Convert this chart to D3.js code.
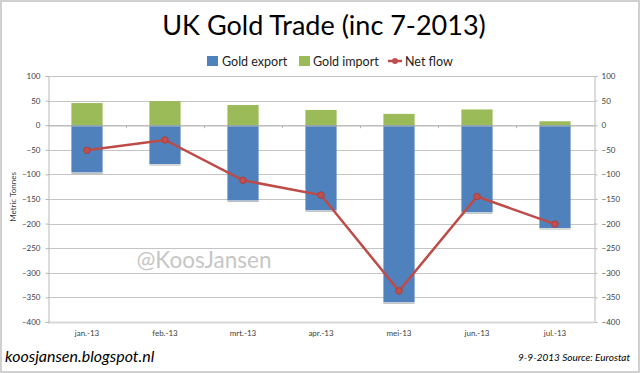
<!DOCTYPE html>
<html><head><meta charset="utf-8">
<script src="https://cdn.jsdelivr.net/npm/d3@7"></script>
<style>
html,body{margin:0;padding:0;background:#fff;}
svg{display:block;}
</style></head>
<body>
<svg id="chart" width="640" height="373"></svg>
<script>
const categories = ["jan.-13","feb.-13","mrt.-13","apr.-13","mei-13","jun.-13","jul.-13"];
const goldExport = [-96,-79,-153,-173,-360,-177,-209];
const goldImport = [45,49,41,31,23,32,8];
const netFlow = [-51,-30,-112,-142,-337,-145,-201];
const yTicks = [100,50,0,-50,-100,-150,-200,-250,-300,-350,-400];

const svg = d3.select("#chart");
const FONT = "Lato, 'Open Sans', sans-serif";
const plotL = 48, plotR = 594, plotT = 76, plotB = 322;

// frame
svg.append("rect").attr("x",1).attr("y",1).attr("width",638).attr("height",371)
  .attr("fill","#fff").attr("stroke","#d0d0d0").attr("stroke-width",2);

const x = d3.scaleBand().domain(categories).range([plotL,plotR]).padding(0);
const y = d3.scaleLinear().domain([-400,100]).range([plotB,plotT]);
const barW = x.bandwidth()*0.4;
const cx = c => x(c)+x.bandwidth()/2;

// gridlines
svg.append("g").selectAll("line").data(yTicks).join("line")
  .attr("x1",plotL).attr("x2",plotR)
  .attr("y1",d=>Math.round(y(d))+0.5).attr("y2",d=>Math.round(y(d))+0.5)
  .attr("stroke",d=> d===-400 ? "#d8d8d8" : "#c4c4c4")
  .attr("stroke-width",d=> d===-400 ? 2 : 1);

// left axis
const la = svg.append("g").attr("transform",`translate(${plotL+0.5},0)`)
  .call(d3.axisLeft(y).tickValues(yTicks).tickSize(3).tickPadding(5));
// right axis
const ra = svg.append("g").attr("transform",`translate(${plotR+0.5},0)`)
  .call(d3.axisRight(y).tickValues(yTicks).tickSize(3).tickPadding(4));
[la,ra].forEach(a=>{
  a.select(".domain").attr("stroke","#b8b8b8");
  a.selectAll(".tick line").attr("stroke","#b8b8b8");
  a.selectAll("text").attr("font-family",FONT).attr("font-size",8).attr("fill","#404040");
});

// bars
svg.append("g").selectAll("rect").data(categories).join("rect")
  .attr("x",c=>cx(c)-barW/2).attr("width",barW)
  .attr("y",(c,i)=>y(0)).attr("height",(c,i)=>y(goldExport[i])-y(0))
  .attr("fill","#4F81BD");
svg.append("g").selectAll("rect").data(categories).join("rect")
  .attr("x",c=>cx(c)-barW/2).attr("width",barW)
  .attr("y",(c,i)=>y(goldImport[i])).attr("height",(c,i)=>y(0)-y(goldImport[i]))
  .attr("fill","#9BBB59");
// subtle bar bottom shadow
svg.append("g").selectAll("line").data(categories).join("line")
  .attr("x1",c=>cx(c)-barW/2).attr("x2",c=>cx(c)+barW/2)
  .attr("y1",(c,i)=>y(goldExport[i])+1).attr("y2",(c,i)=>y(goldExport[i])+1)
  .attr("stroke","#a8a8a8").attr("stroke-width",1.2).attr("opacity",0.7);

// category axis at zero
const ca = svg.append("g").attr("transform",`translate(0,${Math.round(y(0))+0.5})`)
  .call(d3.axisBottom(x).tickSize(0).tickFormat(""));
ca.select(".domain").attr("stroke","#b8b8b8");
svg.append("g").selectAll("line").data(categories.slice(1)).join("line")
  .attr("x1",c=>Math.round(x(c))+0.5).attr("x2",c=>Math.round(x(c))+0.5)
  .attr("y1",y(0)).attr("y2",y(0)+3).attr("stroke","#b8b8b8");

// category labels
svg.append("g").selectAll("text").data(categories).join("text")
  .attr("x",cx).attr("y",plotB+14).attr("text-anchor","middle")
  .attr("font-family",FONT).attr("font-size",8).attr("fill","#404040").text(d=>d);

// watermark
svg.append("text").attr("x",204).attr("y",268).attr("text-anchor","middle")
  .attr("font-family",FONT).attr("font-size",22.5).attr("fill","#c6c6c6").text("@KoosJansen");

// net flow
const line = d3.line().x((d,i)=>cx(categories[i])).y(d=>y(d));
svg.append("path").datum(netFlow).attr("d",line).attr("fill","none")
  .attr("stroke","#BE4B48").attr("stroke-width",2.5);
svg.append("g").selectAll("circle").data(netFlow).join("circle")
  .attr("cx",(d,i)=>cx(categories[i])).attr("cy",d=>y(d)).attr("r",3.3)
  .attr("fill","#C0504D").attr("stroke","#a33b38").attr("stroke-width",0.8);

// y title
svg.append("text").attr("transform","translate(16,197) rotate(-90)").attr("text-anchor","middle")
  .attr("font-family",FONT).attr("font-size",8).attr("fill","#404040").text("Metric Tonnes");

// title
svg.append("text").attr("x",324).attr("y",35).attr("text-anchor","middle")
  .attr("font-family",FONT).attr("font-size",27).attr("fill","#000").text("UK Gold Trade (inc 7-2013)");

// legend
const lg = svg.append("g").attr("font-family",FONT).attr("font-size",12.5).attr("fill","#222");
lg.append("rect").attr("x",207).attr("y",56).attr("width",11).attr("height",10).attr("fill","#4F81BD");
lg.append("text").attr("x",222).attr("y",65.5).text("Gold export");
lg.append("rect").attr("x",299).attr("y",56).attr("width",11).attr("height",10).attr("fill","#9BBB59");
lg.append("text").attr("x",313).attr("y",65.5).text("Gold import");
lg.append("line").attr("x1",388).attr("x2",402).attr("y1",61).attr("y2",61).attr("stroke","#BE4B48").attr("stroke-width",2.5);
lg.append("circle").attr("cx",395).attr("cy",61).attr("r",3).attr("fill","#C0504D");
lg.append("text").attr("x",405).attr("y",65.5).text("Net flow");

// footer
svg.append("text").attr("x",5).attr("y",362).attr("font-family",FONT).attr("font-style","italic")
  .attr("font-size",16).attr("fill","#000").text("koosjansen.blogspot.nl");
svg.append("text").attr("x",630).attr("y",361).attr("text-anchor","end").attr("font-family",FONT)
  .attr("font-style","italic").attr("font-size",10).attr("fill","#000").text("9-9-2013 Source: Eurostat");
</script>
</body></html>
